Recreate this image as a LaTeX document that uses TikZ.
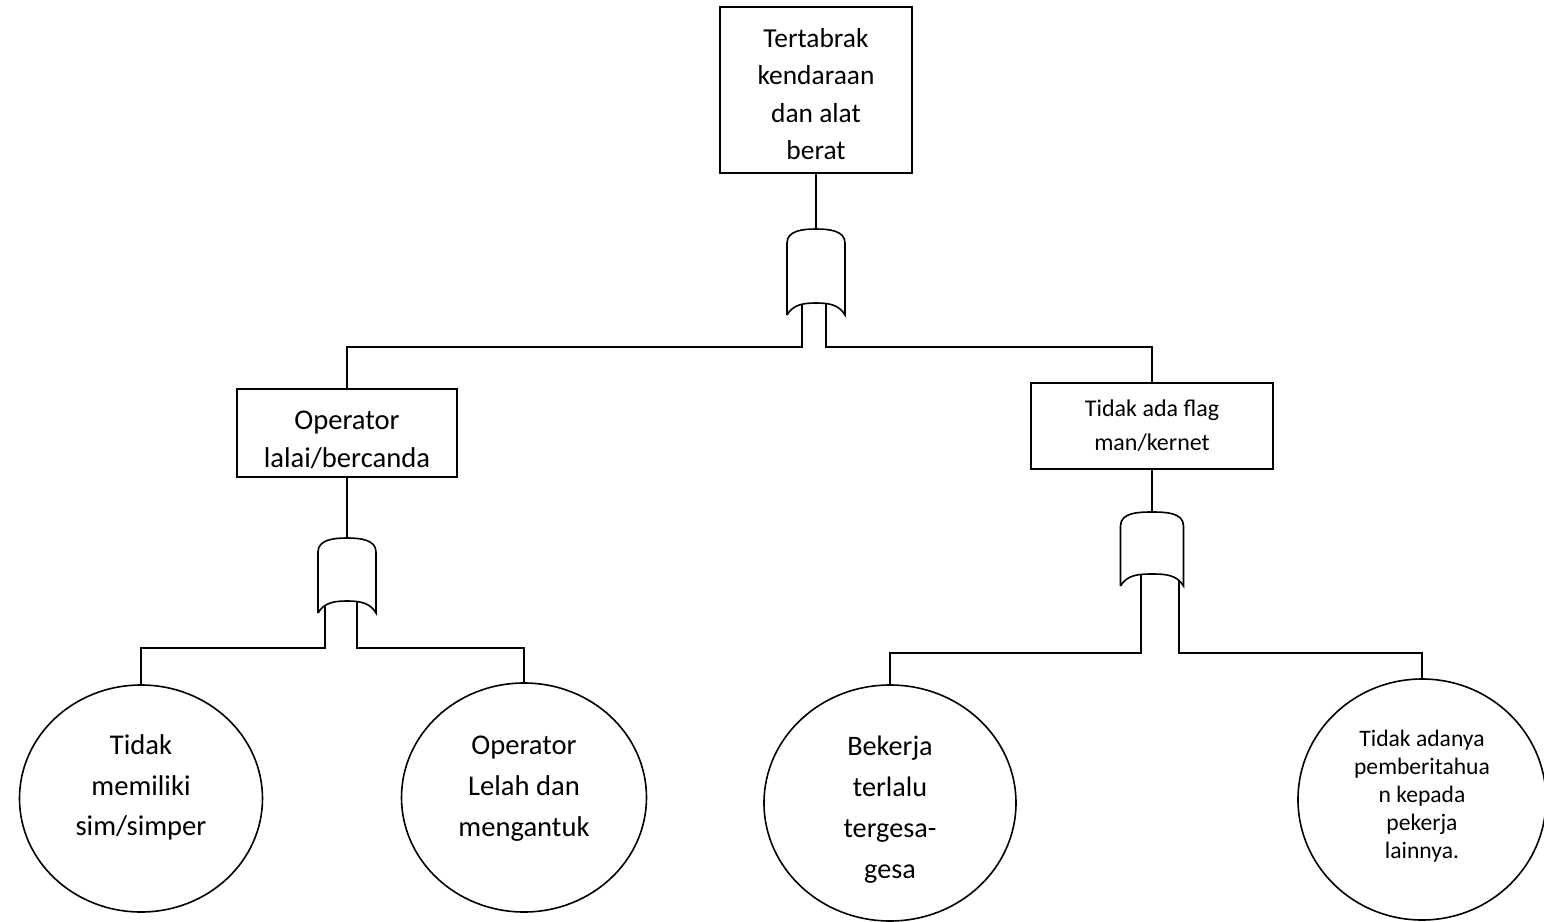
\documentclass[tikz,border=0pt]{standalone}
\usepackage{fontspec}
\setmainfont{Carlito}
\usetikzlibrary{positioning,shapes.geometric}

\newcommand{\drawgate}[1]{%
  \draw[fill=white] (#1.south west) -- ([yshift=-7pt]#1.north west)
    to[out=90,in=180] (#1.north) to[out=0,in=90] ([yshift=-7pt]#1.north east)
    -- (#1.south east) to[out=120,in=0] ([yshift=6pt]#1.south)
    to[out=180,in=60] (#1.south west);}

\begin{document}
\begin{tikzpicture}[event/.style={draw,rectangle,inner sep=0pt,outer sep=0pt},
  basic/.style={draw,ellipse,inner sep=0pt,outer sep=0pt},
  orgate/.style={inner sep=0pt,outer sep=0pt,minimum width=29pt,minimum height=43pt},
  every label/.style={align=center}]
\tikzstyle{every path}=[thick];
\useasboundingbox (0,0) rectangle (772pt,-461pt);
\node[event,minimum width=96pt,minimum height=83pt,
  label={[yshift=-2pt,font=\fontsize{13.7}{18.7}\selectfont]center:Tertabrak\\kendaraan\\dan alat\\berat}] (top) at (408pt,-45pt) {};
\node[orgate] (g0) [below=28pt of top] {};
\node[event,minimum width=110pt,minimum height=44pt,
  label={[yshift=-3.5pt,font=\fontsize{14.3}{19}\selectfont]center:Operator\\lalai/bercanda}] (op) [below=37pt of g0,xshift=-234.5pt] {};
\node[event,minimum width=121pt,minimum height=43pt,
  label={[font=\fontsize{12}{17}\selectfont]center:Tidak ada flag\\man/kernet}] (flag) [below=34pt of g0,xshift=168pt] {};
\node[orgate,minimum height=37.5pt] (g1) [below=30.5pt of op] {};
\node[orgate,minimum width=31.5pt,minimum height=37pt] (g2) [below=21.5pt of flag] {};
\node[basic,minimum width=121.5pt,minimum height=113.5pt,
  label={[yshift=5.5pt,font=\fontsize{14.3}{20.3}\selectfont]center:Tidak\\memiliki\\sim/simper}] (sim) [below=36pt of g1,xshift=-103pt] {};
\node[basic,minimum width=122.5pt,minimum height=114.5pt,
  label={[yshift=4.5pt,font=\fontsize{14.3}{20.5}\selectfont]center:Operator\\Lelah dan\\mengantuk}] (lelah) [below=35pt of g1,xshift=88.5pt] {};
\node[basic,minimum width=126pt,minimum height=118pt,
  label={[yshift=-3.5pt,font=\fontsize{14.1}{20.5}\selectfont]center:Bekerja\\terlalu\\tergesa-\\gesa}] (buru) [below=49.5pt of g2,xshift=-131pt] {};
\node[basic,minimum width=124pt,minimum height=120.5pt,
  label={[yshift=1.5pt,font=\fontsize{11.8}{14}\selectfont]center:Tidak adanya\\pemberitahua\\n kepada\\pekerja\\lainnya.}] (info) [below=46.5pt of g2,xshift=135pt] {};
\path (top) edge (g0);
\path (op) edge (g1);
\path (flag) edge (g2);
\draw ([xshift=-7pt,yshift=6pt]g0.south) -- ++(0,-22pt) -| (op.north);
\draw ([xshift=5pt,yshift=6pt]g0.south) -- ++(0,-22pt) -| (flag.north);
\draw ([xshift=-11pt,yshift=6pt]g1.south) -- ++(0,-23.5pt) -| (sim.north);
\draw ([xshift=5pt,yshift=6pt]g1.south) -- ++(0,-23.5pt) -| (lelah.north);
\draw ([xshift=-5.5pt,yshift=6pt]g2.south) -- ++(0,-39.5pt) -| (buru.north);
\draw ([xshift=13.5pt,yshift=6pt]g2.south) -- ++(0,-39.5pt) -| (info.north);
\drawgate{g0}
\drawgate{g1}
\drawgate{g2}
\end{tikzpicture}
\end{document}
